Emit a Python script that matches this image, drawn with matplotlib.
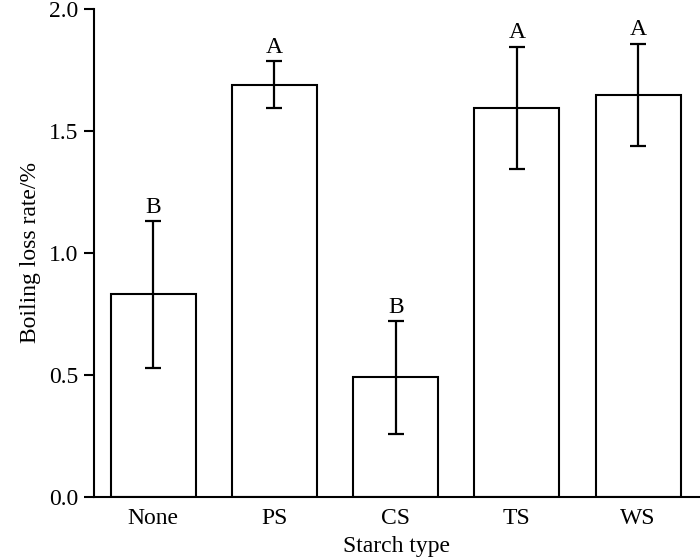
import matplotlib.pyplot as plt

plt.rcParams['font.family'] = ['Liberation Serif', 'DejaVu Serif']
plt.rcParams['font.size'] = 17

starch = ["None", "PS", "CS", "TS", "WS"]
loss = [0.83, 1.69, 0.49, 1.595, 1.647]
err = [0.30, 0.095, 0.23, 0.25, 0.21]
letters = ["B", "A", "B", "A", "A"]

fig = plt.figure(figsize=(7, 5.6), dpi=100)
ax = fig.add_axes([0.134, 0.1125, 0.866, 0.8715])

x = range(len(starch))
ax.bar(x, loss, width=0.70, color="white", edgecolor="black", linewidth=1.5,
       yerr=err, capsize=6, error_kw={"elinewidth": 1.6, "capthick": 1.6, "ecolor": "black"})

for i in x:
    ax.text(i, loss[i] + err[i] + 0.015, letters[i], ha="center", va="bottom", fontsize=17)

ax.set_xlim(-0.49, 4.51)
ax.set_ylim(0, 2.0)
ax.set_yticks([0.0, 0.5, 1.0, 1.5, 2.0])
ax.set_yticklabels(["0.0", "0.5", "1.0", "1.5", "2.0"])
ax.set_xticks(list(x))
ax.set_xticklabels(starch)

ax.spines["top"].set_visible(False)
ax.spines["right"].set_visible(False)
ax.spines["left"].set_linewidth(1.5)
ax.spines["bottom"].set_linewidth(1.5)
ax.tick_params(axis="y", direction="out", length=7, width=1.5, pad=4)
ax.tick_params(axis="x", length=0, pad=8)

ax.set_xlabel("Starch type", labelpad=5)
ax.set_ylabel("Boiling loss rate/%", labelpad=6)

plt.savefig("out.png", dpi=100)
